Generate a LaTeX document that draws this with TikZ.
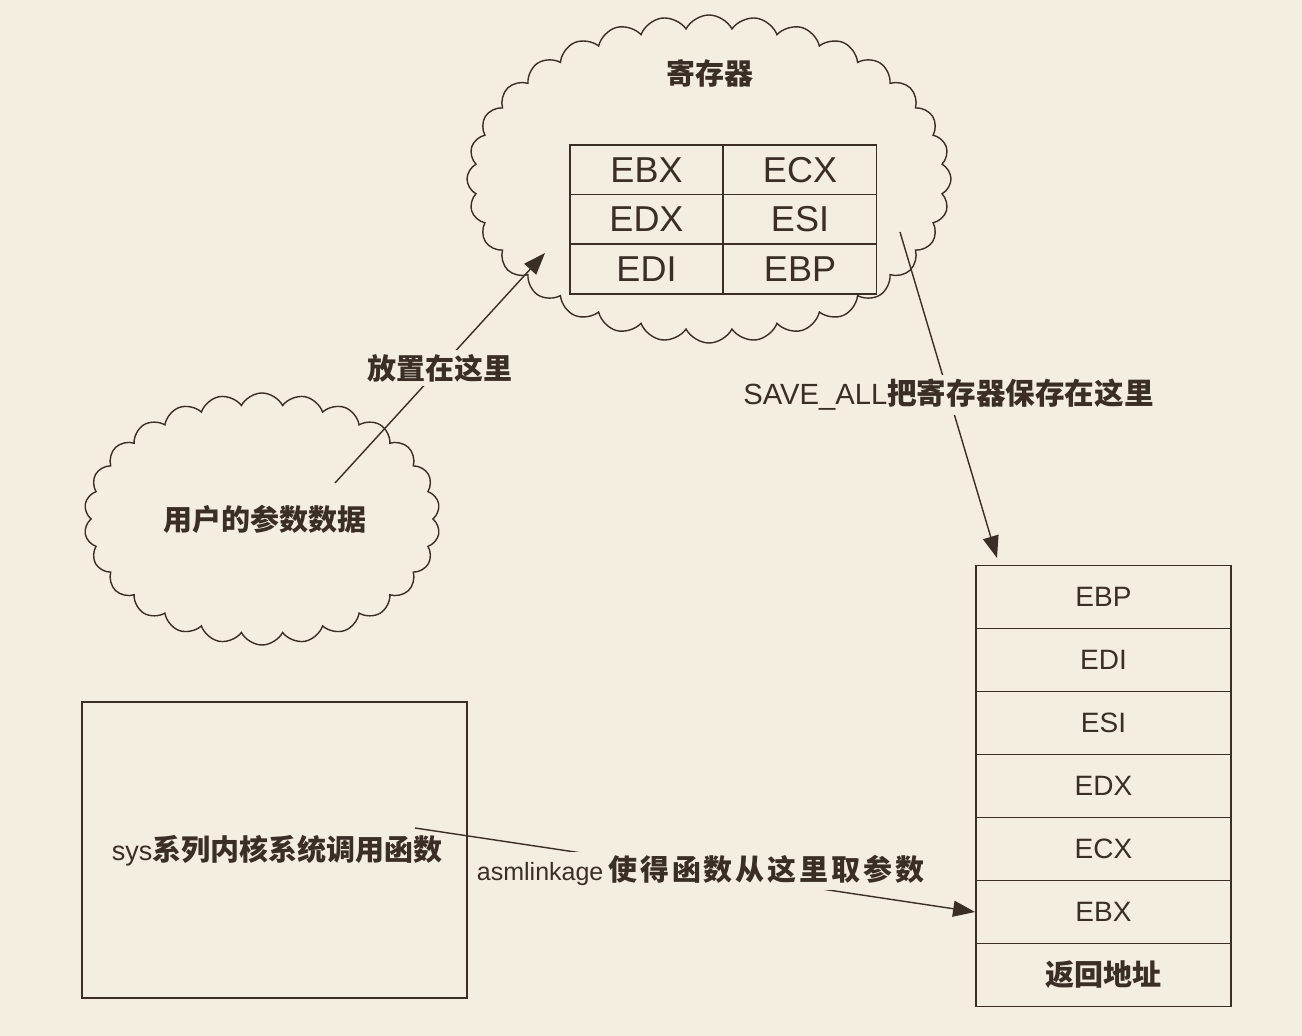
\documentclass[tikz,border=0pt]{standalone}
\usepackage{fontspec}
\setmainfont{Liberation Sans}
\newfontfamily\cjk{Noto Sans CJK SC}
\usetikzlibrary{shapes.symbols,arrows.meta}
\definecolor{bg}{HTML}{F4EEE0}
\definecolor{ink}{HTML}{3A2E25}
\begin{document}
\begin{tikzpicture}[x=0.5pt,y=-0.5pt,
  cloudshape/.style={cloud, draw=ink, line width=0.7pt, cloud puffs=#1, cloud puff arc=125, cloud ignores aspect, inner sep=0pt},
  cell/.style={draw=ink, fill=bg, line width=0.9pt, minimum width=76.5pt, minimum height=25pt, inner sep=0pt, text=ink, font=\fontsize{18}{20}\selectfont},
  stackcell/.style={draw=ink, line width=0.9pt, minimum width=127.5pt, minimum height=31.5pt, inner sep=0pt, text=ink, font=\fontsize{14}{16}\selectfont},
  plainbox/.style={draw=ink, line width=0.8pt, minimum width=192.5pt, minimum height=148pt, inner sep=0pt},
  arr/.style={draw=ink, line width=0.7pt, -{Triangle[length=11pt,width=8pt]}},
  lbl/.style={fill=bg, inner sep=2pt, text=ink},
  zh/.style={text=ink, font=\cjk\bfseries\fontsize{14.5}{17}\selectfont}
]
\path[fill=bg] (0,0) rectangle (1302,1036);

% clouds
\node[cloudshape=32, minimum width=242pt, minimum height=164pt] (regcloud) at (709,179) {};
\node[cloudshape=26, minimum width=178pt, minimum height=126pt] (usercloud) at (262,519) {};
\node[zh] (regtitle) at (710,73) {寄存器};
\node[zh] (userdata) at (265,519) {用户的参数数据};

% register table
\node[cell] (tebx) at (646.5,170) {EBX};
\node[cell] (tecx) at (800,170) {ECX};
\node[cell] (tedx) at (646.5,219.5) {EDX};
\node[cell] (tesi) at (800,219.5) {ESI};
\node[cell] (tedi) at (646.5,269) {EDI};
\node[cell] (tebp) at (800,269) {EBP};

% stack
\node[stackcell] (sebp) at (1103.5,597) {EBP};
\node[stackcell] (sedi) at (1103.5,660) {EDI};
\node[stackcell] (sesi) at (1103.5,723) {ESI};
\node[stackcell] (sedx) at (1103.5,786) {EDX};
\node[stackcell] (secx) at (1103.5,849) {ECX};
\node[stackcell] (sebx) at (1103.5,912) {EBX};
\node[stackcell, font=\cjk\bfseries\fontsize{14.5}{16}\selectfont] (sret) at (1103.5,975) {返回地址};

% sys box
\node[plainbox] (sysbox) at (274.5,850) {};
\node[text=ink] (systext) at (277,851) {\fontsize{13.5}{16}\selectfont sys{\cjk\bfseries\fontsize{14.5}{17}\selectfont 系列内核系统调用函数}};

% arrows
\coordinate (a1s) at (335,483);
\coordinate (a1e) at (545,253);
\coordinate (a2s) at (900,232);
\coordinate (a2e) at (997,558);
\coordinate (a3s) at (415,828);

\draw[arr] (a1s) -- node[lbl, zh] (lbl1) {放置在这里} (a1e);
\draw[arr] (a2s) -- node[lbl, pos=0.5, text=ink] (lbl2) {\fontsize{14.6}{17}\selectfont SAVE\_ALL{\cjk\bfseries\fontsize{14.8}{17}\selectfont 把寄存器保存在这里}} (a2e);
\draw[arr] (a3s) -- node[lbl, pos=0.51, text=ink] (lbl3) {\fontsize{12.5}{17}\selectfont asmlinkage{\cjk\bfseries\fontsize{14.5}{17}\selectfont \addfontfeature{LetterSpace=10}\,使得函数从这里取参数}} (sebx.west);
\end{tikzpicture}
\end{document}
